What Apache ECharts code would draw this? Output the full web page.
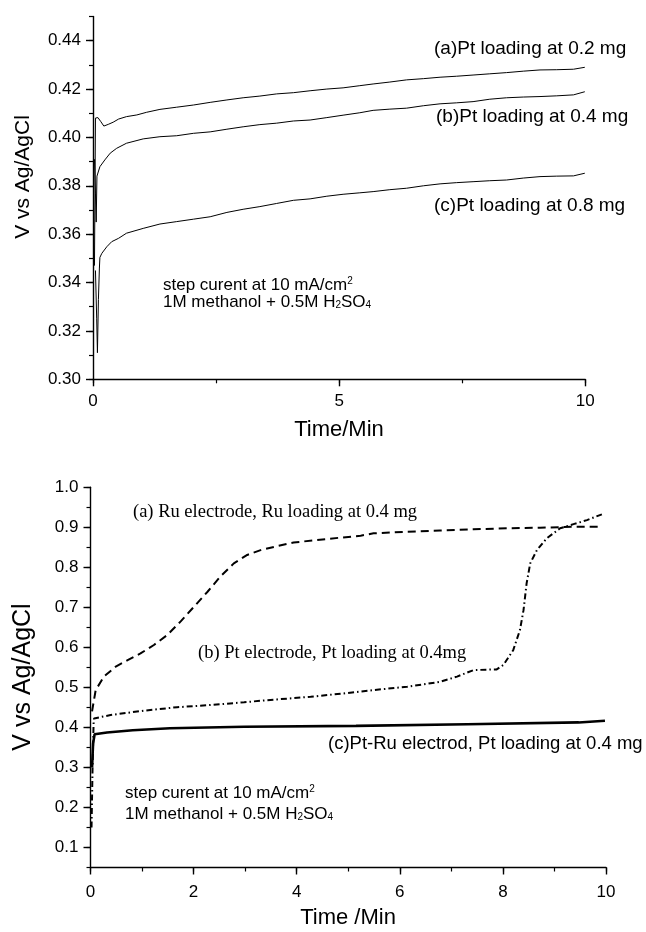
<!DOCTYPE html>
<html>
<head>
<meta charset="utf-8">
<script src="https://cdn.jsdelivr.net/npm/echarts@6/dist/echarts.min.js"></script>
<style>
  html, body { margin: 0; padding: 0; background: #fff; }
  #chart { width: 646px; height: 932px; }
</style>
</head>
<body>
<div id="chart"></div>
<script>
// ---- Upper panel: Pt electrodes with different Pt loadings (time in min, potential in V) ----
const ptLoad02 = [
  [0.03,0.347],[0.05,0.408],[0.10,0.4082],[0.16,0.4065],[0.22,0.4047],[0.31,0.4054],[0.41,0.4063],
  [0.52,0.4076],[0.68,0.4086],[0.89,0.4093],[1.09,0.4104],[1.36,0.4116],[1.70,0.4125],[2.04,0.4134],
  [2.38,0.4145],[2.72,0.4155],[3.05,0.4164],[3.39,0.4171],[3.73,0.4180],[4.07,0.4185],[4.41,0.4193],
  [4.75,0.4200],[5.08,0.4205],[5.42,0.4214],[5.69,0.4221],[6.03,0.4229],[6.37,0.4238],[6.71,0.4243],
  [7.05,0.4249],[7.38,0.4253],[7.72,0.4258],[8.06,0.4263],[8.40,0.4268],[8.74,0.4274],[9.08,0.4279],
  [9.42,0.4280],[9.76,0.4282],[9.99,0.4290]
];
const ptLoad04 = [
  [0.03,0.391],[0.05,0.377],[0.065,0.365],[0.08,0.384],[0.14,0.3879],[0.24,0.3907],[0.35,0.3935],
  [0.48,0.3955],[0.68,0.3976],[1.02,0.3994],[1.36,0.4003],[1.70,0.4007],[2.04,0.4017],[2.38,0.4023],
  [2.72,0.4034],[3.05,0.4044],[3.39,0.4053],[3.73,0.4059],[4.07,0.4068],[4.41,0.4072],[4.75,0.4082],
  [5.08,0.4092],[5.42,0.4102],[5.69,0.4112],[6.03,0.4117],[6.37,0.4121],[6.71,0.4131],[7.05,0.4139],
  [7.38,0.4143],[7.72,0.4148],[8.06,0.4158],[8.40,0.4164],[8.74,0.4167],[9.08,0.4169],[9.42,0.4172],
  [9.76,0.4176],[9.99,0.4189]
];
const ptLoad08 = [
  [0.05,0.345],[0.075,0.325],[0.09,0.311],[0.11,0.333],[0.13,0.346],[0.14,0.3504],[0.18,0.3521],
  [0.28,0.3548],[0.38,0.3569],[0.52,0.3583],[0.68,0.3604],[1.02,0.3624],[1.36,0.3642],[1.70,0.3652],
  [2.04,0.3662],[2.38,0.3672],[2.72,0.3690],[3.05,0.3703],[3.39,0.3714],[3.73,0.3727],[4.07,0.3740],
  [4.41,0.3746],[4.75,0.3757],[5.08,0.3765],[5.42,0.3771],[5.69,0.3776],[6.03,0.3784],[6.37,0.3790],
  [6.71,0.3800],[7.05,0.3808],[7.38,0.3813],[7.72,0.3817],[8.06,0.3821],[8.40,0.3824],[8.74,0.3832],
  [9.08,0.3838],[9.42,0.3840],[9.76,0.3841],[9.99,0.3852]
];

// ---- Lower panel: Ru, Pt and Pt-Ru electrodes ----
const ruElectrode = [
  [0.03,0.44],[0.10,0.493],[0.26,0.527],[0.49,0.552],[0.72,0.568],[0.97,0.585],[1.23,0.606],
  [1.49,0.631],[1.75,0.665],[2.01,0.702],[2.27,0.739],[2.52,0.777],[2.78,0.810],[3.04,0.831],
  [3.30,0.843],[3.62,0.853],[3.94,0.862],[4.59,0.871],[5.24,0.879],[5.49,0.885],[6.14,0.889],
  [6.78,0.892],[7.43,0.895],[8.08,0.8975],[8.72,0.899],[9.37,0.9016],[9.85,0.9016]
];
const ptElectrode = [
  [0.02,0.15],[0.04,0.30],[0.06,0.41],[0.07,0.4225],[0.39,0.431],[1.04,0.442],[1.68,0.4505],
  [2.33,0.456],[2.98,0.463],[3.62,0.470],[4.27,0.4766],[4.91,0.485],[5.49,0.4933],[6.14,0.5016],
  [6.78,0.514],[7.11,0.527],[7.43,0.5433],[7.88,0.545],[8.01,0.556],[8.20,0.593],[8.33,0.643],
  [8.40,0.693],[8.46,0.760],[8.53,0.810],[8.66,0.843],[8.85,0.8725],[9.11,0.8975],[9.37,0.908],
  [9.63,0.918],[9.92,0.9325]
];
const ptRuElectrode = [
  [0.03,0.30],[0.05,0.36],[0.08,0.383],[0.32,0.3875],[0.82,0.393],[1.54,0.398],[2.98,0.4017],
  [5.15,0.404],[7.31,0.408],[9.47,0.4125],[9.98,0.4167]
];

// ---- Tick labels ----
const topXTicks = [0, 5, 10];
const topYTicks = [0.30, 0.32, 0.34, 0.36, 0.38, 0.40, 0.42, 0.44];
const botXTicks = [0, 2, 4, 6, 8, 10];
const botYTicks = [0.1, 0.2, 0.3, 0.4, 0.5, 0.6, 0.7, 0.8, 0.9, 1.0];

const SANS = '"Liberation Sans", Arial, Helvetica, sans-serif';
const SERIF = '"Liberation Serif", "Times New Roman", serif';
const INK = '#000';

// Main axis: labels and long ticks at the given values; companion axis: short minor ticks.
function axisWithMinor(gridIndex, position, min, max, minorStep, majors, fmt, margin) {
  const main = {
    type: 'value', gridIndex, position, min, max, interval: minorStep,
    axisLine: { show: true, onZero: false, lineStyle: { color: INK, width: 1.4 } },
    axisTick: { show: true, customValues: majors, length: 7, lineStyle: { color: INK, width: 1.4 } },
    axisLabel: { show: true, customValues: majors, formatter: fmt, margin,
                 color: INK, fontFamily: SANS, fontSize: 17 },
    splitLine: { show: false }
  };
  const minor = {
    type: 'value', gridIndex, position, min, max, interval: minorStep,
    axisLine: { show: false, onZero: false },
    axisTick: { show: true, length: 4, lineStyle: { color: INK, width: 1.2 } },
    axisLabel: { show: false },
    splitLine: { show: false }
  };
  return [main, minor];
}

const xAxes = [
  ...axisWithMinor(0, 'bottom', 0, 10, 2.5, topXTicks, v => String(v), 14),
  ...axisWithMinor(1, 'bottom', 0, 10, 1, botXTicks, v => String(v), 16)
];
const yAxes = [
  ...axisWithMinor(0, 'left', 0.30, 0.45, 0.01, topYTicks, v => v.toFixed(2), 12),
  ...axisWithMinor(1, 'left', 0.05, 1.0, 0.05, botYTicks, v => v.toFixed(1), 12)
];

function curve(name, data, xi, yi, width, type) {
  return {
    name, type: 'line', data, xAxisIndex: xi, yAxisIndex: yi,
    showSymbol: false, symbol: 'none', smooth: false,
    lineStyle: { color: INK, width, type },
    animation: false, silent: true
  };
}

function label(text, x, y, size, family) {
  return {
    type: 'text', x, y, silent: true,
    style: { text, fill: INK, fontSize: size, fontFamily: family, align: 'left', verticalAlign: 'middle' }
  };
}

function richLabel(text, x, y, size) {
  return {
    type: 'text', x, y, silent: true,
    style: {
      text, fill: INK, fontSize: size, fontFamily: SANS, align: 'left', verticalAlign: 'middle',
      rich: {
        sup: { fontSize: 10, fontFamily: SANS, fill: INK, verticalAlign: 'top' },
        sub: { fontSize: 10, fontFamily: SANS, fill: INK, verticalAlign: 'bottom' }
      }
    }
  };
}

function rotatedTitle(text, cx, cy, size) {
  return {
    type: 'text', x: cx, y: cy, rotation: Math.PI / 2, silent: true,
    style: { text, fill: INK, fontSize: size, fontFamily: SANS, align: 'center', verticalAlign: 'middle' }
  };
}

function centredTitle(text, cx, cy, size) {
  return {
    type: 'text', x: cx, y: cy, silent: true,
    style: { text, fill: INK, fontSize: size, fontFamily: SANS, align: 'center', verticalAlign: 'middle' }
  };
}

const chart = echarts.init(document.getElementById('chart'), null, { renderer: 'canvas' });
chart.setOption({
  backgroundColor: '#fff',
  animation: false,
  grid: [
    { left: 93, top: 16.5, width: 492.3, height: 362.8, containLabel: false, outerBoundsMode: 'none' },
    { left: 90.5, top: 487.3, width: 515.5, height: 380.2, containLabel: false, outerBoundsMode: 'none' }
  ],
  xAxis: xAxes,
  yAxis: yAxes,
  series: [
    curve('(a)Pt loading at 0.2 mg', ptLoad02, 0, 0, 1, 'solid'),
    curve('(b)Pt loading at 0.4 mg', ptLoad04, 0, 0, 1, 'solid'),
    curve('(c)Pt loading at 0.8 mg', ptLoad08, 0, 0, 1, 'solid'),
    curve('(a) Ru electrode', ruElectrode, 2, 2, 2, [8, 5]),
    curve('(b) Pt electrode', ptElectrode, 2, 2, 2, [6, 3, 1.5, 3]),
    curve('(c)Pt-Ru electrod', ptRuElectrode, 2, 2, 2.6, 'solid')
  ],
  graphic: [
    // upper panel annotations
    label('(a)Pt loading at 0.2 mg', 434, 49, 19, SANS),
    label('(b)Pt loading at 0.4 mg', 436, 117, 19, SANS),
    label('(c)Pt loading at 0.8 mg', 434, 206, 19, SANS),
    richLabel('step curent at 10 mA/cm{sup|2}', 163, 285, 17),
    richLabel('1M methanol + 0.5M H{sub|2}SO{sub|4}', 163, 302, 17),
    rotatedTitle('V vs Ag/AgCl', 23, 177, 21),
    centredTitle('Time/Min', 339, 430, 22),
    // lower panel annotations
    label('(a) Ru electrode, Ru loading at 0.4 mg', 133, 512, 18.5, SERIF),
    label('(b) Pt electrode, Pt loading at 0.4mg', 198, 653, 18.5, SERIF),
    label('(c)Pt-Ru electrod, Pt loading at 0.4 mg', 328, 744, 18.5, SANS),
    richLabel('step curent at 10 mA/cm{sup|2}', 125, 793, 17),
    richLabel('1M methanol + 0.5M H{sub|2}SO{sub|4}', 125, 814, 17),
    rotatedTitle('V vs Ag/AgCl', 23, 677, 25),
    centredTitle('Time /Min', 348, 918, 22)
  ]
});
</script>
</body>
</html>
